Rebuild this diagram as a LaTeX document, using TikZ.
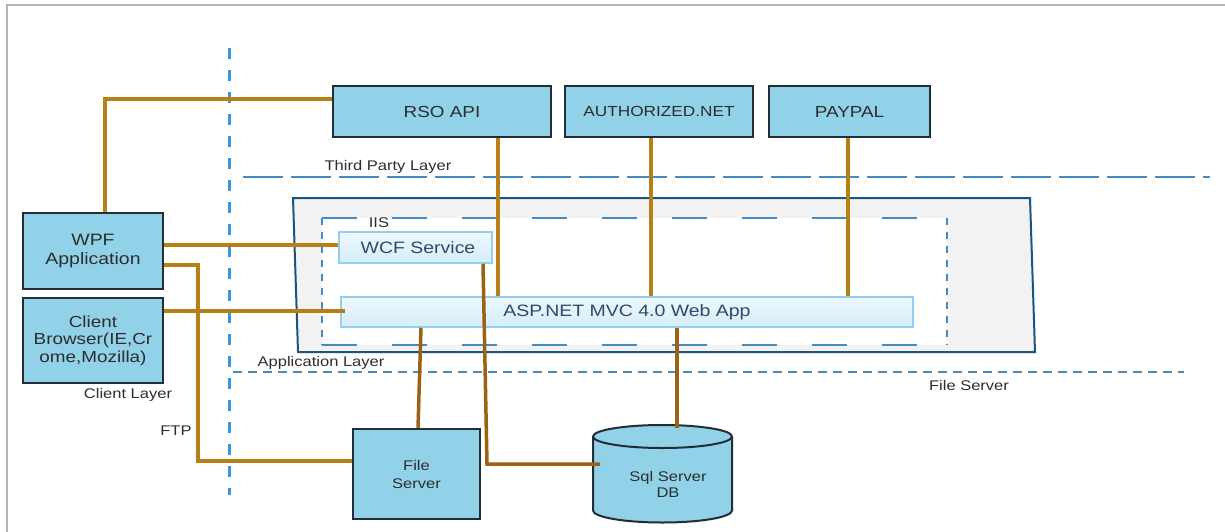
\documentclass[tikz,border=0pt]{standalone}
\usepackage{fontspec}
\setmainfont{Liberation Sans}[FakeStretch=1.18]
\definecolor{skyb}{RGB}{145,210,232}
\definecolor{boxbord}{RGB}{35,45,55}
\definecolor{txtc}{RGB}{45,45,45}
\definecolor{slate}{RGB}{45,75,105}
\definecolor{lbord}{RGB}{150,205,235}
\definecolor{ltop}{RGB}{238,248,254}
\definecolor{lbot}{RGB}{212,236,250}
\definecolor{gold}{RGB}{182,128,22}
\definecolor{brn}{RGB}{155,98,22}
\definecolor{dashb}{RGB}{70,140,195}
\definecolor{vdash}{RGB}{60,150,215}
\definecolor{contb}{RGB}{25,85,125}
\definecolor{frame}{RGB}{180,180,180}
\tikzset{
  box/.style={draw=boxbord, line width=2pt, fill=skyb, inner sep=0pt, align=center, text=txtc},
  lbox/.style={draw=lbord, line width=1.5pt, top color=ltop, bottom color=lbot, inner sep=0pt, text=slate},
  conn/.style={draw=gold, line width=4pt},
  connb/.style={draw=brn, line width=3.5pt},
  lbl/.style={text=txtc, font=\fontsize{14}{16}\selectfont, inner sep=0pt, align=center},
  layerline/.style={draw=dashb, line width=2pt},
}
\begin{document}
\begin{tikzpicture}[x=1pt,y=-1pt]
\useasboundingbox (0,0) rectangle (1225,532);
\fill[white] (0,0) rectangle (1225,532);
% frame
\draw[frame, line width=2pt] (7,532) -- (7,5) -- (1225,5);
% vertical separator
\draw[vdash, line width=3pt, dash pattern=on 11pt off 11pt] (229.5,48) -- (229.5,495);
% layer lines
\draw[layerline, dash pattern=on 40pt off 8pt] (243,177) -- (1210,177);
\draw[layerline, dash pattern=on 9pt off 6pt] (233,372) -- (1184,372);
% outer container
\draw[contb, line width=2pt, fill=black!5] (293,198) -- (1030,198) -- (1035,352) -- (298,352) -- cycle;
% IIS box
\fill[white] (322,218) rectangle (947,345);
\draw[dashb, line width=2pt, dash pattern=on 35pt off 35pt] (322,218) -- (947,218);
\draw[dashb, line width=2pt, dash pattern=on 35pt off 35pt] (322,345) -- (947,345);
\draw[dashb, line width=2pt, dash pattern=on 7pt off 7pt] (322,218) -- (322,345);
\draw[dashb, line width=2pt, dash pattern=on 7pt off 7pt] (947,218) -- (947,345);
\node[lbl, fill=white, inner xsep=3pt] (iis) at (379,223) {IIS};
% labels
\node[lbl] (tpl) at (388,167) {Third Party Layer};
\node[lbl] (apl) at (321,363) {Application Layer};
\node[lbl] (fsl) at (969,385) {File Server};
\node[lbl] (cll) at (128,395) {Client Layer};
\node[lbl] (ftp) at (176,431) {FTP};
% light boxes
\node[lbox, minimum width=153pt, minimum height=31pt, font=\fontsize{16.5}{18}\selectfont] (wcf) at (415.5,247.5) {\hspace*{5pt}WCF Service};
\node[lbox, minimum width=572pt, minimum height=30pt, font=\fontsize{16.5}{18}\selectfont] (asp) at (627,312) {ASP.NET MVC 4.0 Web App};
% boxes
\node[box, minimum width=218pt, minimum height=51pt, font=\fontsize{16}{18}\selectfont] (rso) at (442,111.5) {RSO API};
\node[box, minimum width=188pt, minimum height=51pt, font=\fontsize{14.6}{17}\selectfont] (auth) at (659,111.5) {AUTHORIZED.NET};
\node[box, minimum width=161pt, minimum height=51pt, font=\fontsize{16}{18}\selectfont] (paypal) at (849.5,111.5) {PAYPAL};
\node[box, minimum width=140pt, minimum height=76pt, font=\fontsize{16.5}{19}\selectfont] (wpf) at (93,251) {WPF\\Application};
\node[box, minimum width=140pt, minimum height=85pt, font=\fontsize{16}{17.5}\selectfont] (cb) at (93,340.5) {Client\\Browser(IE,Cr\\ome,Mozilla)};
\node[box, minimum width=127pt, minimum height=90pt, font=\fontsize{14}{18}\selectfont] (fs) at (416.5,474) {File\\Server};
% Sql cylinder
\fill[skyb] (593,436.5) -- (593,510.5) arc[start angle=180, end angle=0, x radius=69.5, y radius=12] -- (732,436.5) arc[start angle=0, end angle=-180, x radius=69.5, y radius=11.5] -- cycle;
\draw[boxbord, line width=2pt] (593,436.5) -- (593,510.5) arc[start angle=180, end angle=0, x radius=69.5, y radius=12] -- (732,436.5);
\draw[boxbord, line width=2pt] (662.5,436.5) ellipse[x radius=69.5, y radius=11.5];
\node[lbl, font=\fontsize{14}{16}\selectfont] (sql) at (668,484) {Sql Server\\DB};
\coordinate (sqltop) at (677,428);
\coordinate (sqlleft) at (600,464);
% connectors
\draw[conn] ([xshift=12pt]wpf.north) |- ([yshift=12.5pt]rso.west);
\draw[conn] (wpf.east |- 0,245) -- (wcf.west |- 0,245);
\draw[conn] (wpf.east |- 0,265) -- (198,265) -- (198,461) -- (fs.west |- 0,461);
\draw[conn] (cb.east |- 0,311) -- ([xshift=5pt]asp.west |- 0,311);
\draw[conn] (rso.south -| 498,0) -- (asp.north -| 498,0);
\draw[conn] (auth.south -| 651,0) -- (asp.north -| 651,0);
\draw[conn] (paypal.south -| 848,0) -- (asp.north -| 848,0);
\draw[connb] (asp.south -| 421,0) -- (fs.north -| 418,0);
\draw[connb] (wcf.south -| 483,0) -- (487,464) -- (sqlleft);
\draw[connb] (asp.south -| 677,0) -- (sqltop);
\end{tikzpicture}
\end{document}
